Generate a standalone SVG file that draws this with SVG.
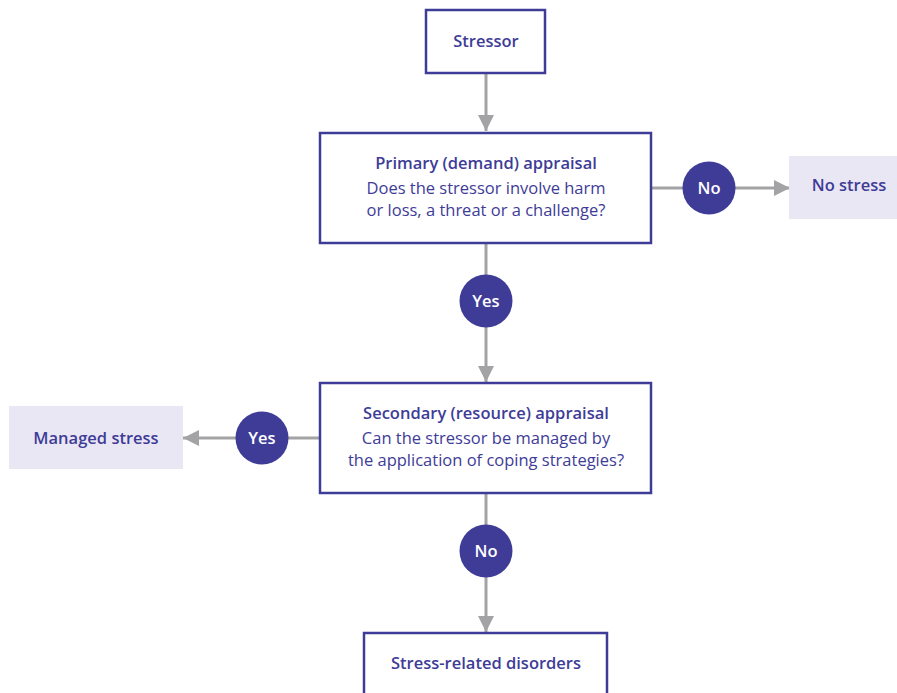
<svg xmlns="http://www.w3.org/2000/svg" width="897" height="693" viewBox="0 0 897 693">
<defs>
<marker id="ah" markerUnits="userSpaceOnUse" markerWidth="16" markerHeight="16" viewBox="0 0 16 16" refX="16" refY="8" orient="auto">
<path d="M0,0 L16,8 L0,16 Z" fill="#a3a3a6"/>
</marker>
<style>
.box{fill:#fff;stroke:#3e3c97;stroke-width:2.5}
.soft{fill:#e9e7f3}
.t{font-family:"Open Sans","Liberation Sans",sans-serif;font-size:16.5px;fill:#3e3c97;text-anchor:middle}
.b{font-weight:600}
.c{fill:#3e3c97}
.ct{font-family:"Open Sans","Liberation Sans",sans-serif;font-size:16.5px;font-weight:600;fill:#fff;text-anchor:middle}
.ln{stroke:#a3a3a6;stroke-width:3;fill:none}
</style>
</defs>
<rect width="897" height="693" fill="#fff"/>
<g id="connectors">
<line class="ln" x1="486" y1="73" x2="486" y2="131" marker-end="url(#ah)"/>
<line class="ln" x1="651" y1="188" x2="790" y2="188" marker-end="url(#ah)"/>
<line class="ln" x1="486" y1="243" x2="486" y2="382" marker-end="url(#ah)"/>
<line class="ln" x1="320" y1="438" x2="183" y2="438" marker-end="url(#ah)"/>
<line class="ln" x1="486" y1="493" x2="486" y2="632" marker-end="url(#ah)"/>
</g>
<g id="stressor">
<rect class="box" x="426" y="10" width="119" height="63"/>
<text class="t b" x="486" y="47">Stressor</text>
</g>
<g id="primary">
<rect class="box" x="320" y="133" width="331" height="110"/>
<text class="t b" x="486" y="169">Primary (demand) appraisal</text>
<text class="t" x="486" y="194">Does the stressor involve harm</text>
<text class="t" x="486" y="216">or loss, a threat or a challenge?</text>
</g>
<g id="no1">
<circle class="c" cx="709" cy="188" r="26.5"/>
<text class="ct" x="709" y="194">No</text>
</g>
<g id="nostress">
<rect class="soft" x="789" y="156" width="108" height="63"/>
<text class="t b" x="849" y="191">No stress</text>
</g>
<g id="yes1">
<circle class="c" cx="486" cy="301" r="26.5"/>
<text class="ct" x="486" y="307">Yes</text>
</g>
<g id="secondary">
<rect class="box" x="320" y="383" width="331" height="110"/>
<text class="t b" x="486" y="419">Secondary (resource) appraisal</text>
<text class="t" x="486" y="444">Can the stressor be managed by</text>
<text class="t" x="486" y="466">the application of coping strategies?</text>
</g>
<g id="yes2">
<circle class="c" cx="262" cy="438" r="26.5"/>
<text class="ct" x="262" y="444">Yes</text>
</g>
<g id="managed">
<rect class="soft" x="9" y="406" width="174" height="63"/>
<text class="t b" x="96" y="444">Managed stress</text>
</g>
<g id="no2">
<circle class="c" cx="486" cy="551" r="26.5"/>
<text class="ct" x="486" y="557">No</text>
</g>
<g id="disorders">
<rect class="box" x="364" y="633" width="243" height="70"/>
<text class="t b" x="486" y="669">Stress-related disorders</text>
</g>
</svg>
